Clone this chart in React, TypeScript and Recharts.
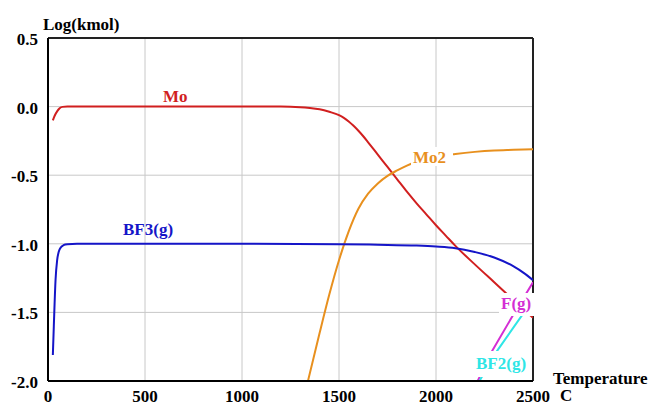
import { CartesianGrid, Line, LineChart, ReferenceLine, XAxis, YAxis } from "recharts";

const tempTicks = [0, 500, 1000, 1500, 2000, 2500];
const logTicks = [-2.0, -1.5, -1.0, -0.5, 0.0, 0.5];

const moTemp = [25, 35, 47, 60, 75, 100, 400, 800, 1200, 1300, 1350, 1400, 1450, 1500, 1525, 1550, 1575, 1600, 1625, 1650, 1700, 1750, 1800, 1850, 1900, 1950, 2000, 2050, 2100, 2200, 2300, 2400, 2500];
const moLog = [-0.1, -0.065, -0.035, -0.012, -0.002, 0, 0, 0, 0, -0.004, -0.01, -0.02, -0.038, -0.062, -0.082, -0.108, -0.14, -0.176, -0.216, -0.26, -0.35, -0.44, -0.53, -0.62, -0.705, -0.785, -0.865, -0.94, -1.015, -1.15, -1.28, -1.41, -1.54];

const mo2Temp = [1340, 1400, 1450, 1500, 1550, 1600, 1650, 1700, 1750, 1800, 1850, 1900, 2000, 2100, 2200, 2300, 2400, 2500];
const mo2Log = [-2.0, -1.65, -1.37, -1.12, -0.91, -0.745, -0.635, -0.56, -0.505, -0.465, -0.43, -0.4, -0.365, -0.345, -0.33, -0.32, -0.315, -0.31];

const bf3Temp = [25, 30, 39, 47, 55, 64, 80, 100, 150, 500, 1000, 1500, 1700, 1900, 2000, 2100, 2200, 2300, 2400, 2450, 2500];
const bf3Log = [-1.81, -1.6, -1.26, -1.12, -1.06, -1.03, -1.01, -1.003, -1.0, -1.0, -1.0, -1.003, -1.007, -1.013, -1.02, -1.032, -1.06, -1.1, -1.165, -1.21, -1.265];

const fTemp = [2215, 2290, 2393, 2500];
const fLog = [-2.0, -1.78, -1.53, -1.28];

const bf2Temp = [2224, 2315, 2444, 2500];
const bf2Log = [-2.0, -1.78, -1.52, -1.41];

const zip = (t: number[], v: number[]) => t.map((x, i) => ({ t: x, v: v[i] }));

const font = { fontFamily: "'Liberation Serif', 'Times New Roman', serif", fontWeight: 700, fontSize: 17 };

const RED = "#d11f1f";
const ORANGE = "#e8901e";
const BLUE = "#1515c8";
const MAGENTA = "#d42ed4";
const CYAN = "#2ee6e6";

const XTick = ({ x, y, payload }: any) => (
  <text x={x} y={y} dy={21} textAnchor="middle" fill="#000" {...font}>
    {payload.value}
  </text>
);

const YTick = ({ x, y, payload }: any) => (
  <text x={x} y={y} dx={-10} dy={7} textAnchor="end" fill="#000" {...font}>
    {Number(payload.value).toFixed(1)}
  </text>
);

export default function App() {
  const series = [
    { name: "Mo", data: zip(moTemp, moLog), color: RED, type: "monotone" },
    { name: "Mo2", data: zip(mo2Temp, mo2Log), color: ORANGE, type: "monotone" },
    { name: "BF3(g)", data: zip(bf3Temp, bf3Log), color: BLUE, type: "monotone" },
    { name: "F(g)", data: zip(fTemp, fLog), color: MAGENTA, type: "linear" },
    { name: "BF2(g)", data: zip(bf2Temp, bf2Log), color: CYAN, type: "linear" },
  ];

  return (
    <div style={{ position: "absolute", left: 0, top: 0, width: 654, height: 403, background: "#fff" }}>
      <LineChart width={654} height={403} margin={{ top: 38, right: 121, bottom: 0, left: 8 }}>
        <CartesianGrid stroke="#c8c8c8" strokeWidth={1} />
        <XAxis
          type="number"
          dataKey="t"
          domain={[0, 2500]}
          ticks={tempTicks}
          height={22}
          tickSize={0}
          tickMargin={0}
          tick={<XTick />}
          axisLine={{ stroke: "#000", strokeWidth: 2 }}
          tickLine={false}
          allowDataOverflow
        />
        <YAxis
          type="number"
          domain={[-2, 0.5]}
          ticks={logTicks}
          width={40}
          tickSize={0}
          tickMargin={0}
          tick={<YTick />}
          axisLine={{ stroke: "#000", strokeWidth: 2 }}
          tickLine={false}
          allowDataOverflow
        />
        <ReferenceLine y={0.5} stroke="#222" strokeWidth={2} />
        <ReferenceLine x={2500} stroke="#222" strokeWidth={2} />
        {series.map((s) => (
          <Line
            key={s.name}
            data={s.data}
            dataKey="v"
            type={s.type as any}
            stroke={s.color}
            strokeWidth={2}
            dot={false}
            isAnimationActive={false}
          />
        ))}
      </LineChart>
      <svg width={654} height={403} style={{ position: "absolute", left: 0, top: 0, pointerEvents: "none" }}>
        <text x={43} y={29.5} fill="#000" {...font}>Log(kmol)</text>
        <text x={553} y={384} fill="#000" {...font}>Temperature</text>
        <text x={560} y={400.5} fill="#000" {...font}>C</text>
        <text x={163} y={101.5} fill={RED} {...font}>Mo</text>
        <text x={123} y={234.5} fill={BLUE} {...font}>BF3(g)</text>
        <rect x={411} y={147} width={42} height={19} fill="#fff" />
        <text x={413} y={162.5} fill={ORANGE} {...font}>Mo2</text>
        <rect x={499} y={293} width={38} height={23} fill="#fff" />
        <text x={501} y={308.5} fill={MAGENTA} {...font}>F(g)</text>
        <rect x={474} y={351} width={57} height={26} fill="#fff" />
        <text x={476} y={368.5} fill={CYAN} {...font}>BF2(g)</text>
      </svg>
    </div>
  );
}
